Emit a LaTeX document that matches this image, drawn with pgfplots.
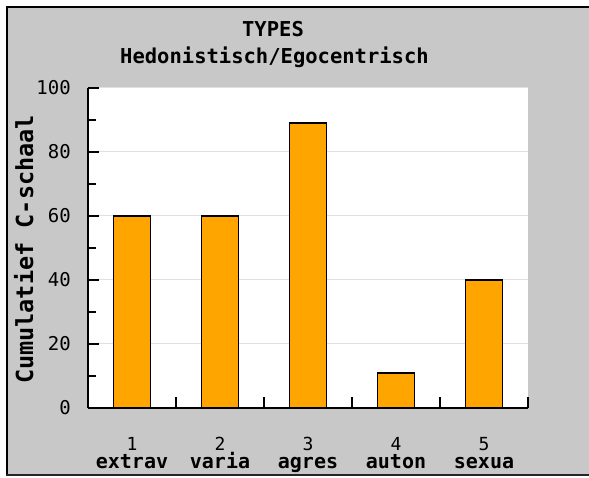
\documentclass[border=0pt]{standalone}
\usepackage{fontspec}
\usepackage{pgfplots}
\pgfplotsset{compat=1.18}
\setmainfont{DejaVu Sans Mono}
\newfontfamily\ticfont{DejaVu Sans Mono}
\definecolor{bg}{RGB}{200,200,200}
\definecolor{barc}{RGB}{255,165,0}
\definecolor{gridc}{RGB}{224,224,224}
\begin{document}
\begin{tikzpicture}[x=1bp,y=1bp]
\path[use as bounding box, fill=white] (0,0) rectangle (589,478);
\fill[bg] (7,3) rectangle (592,471);
\draw[black, line width=2bp] (7,3) -- (7,471) -- (592,471);
\draw[black!85, line width=2bp] (6,3) -- (592,3);
\node[font=\fontsize{20.5bp}{24bp}\selectfont\bfseries, anchor=base, inner sep=0pt] at (273,441) {TYPES};
\node[font=\fontsize{20.5bp}{24bp}\selectfont\bfseries, anchor=base, inner sep=0pt] at (274.5,414) {Hedonistisch/Egocentrisch};
\node[rotate=90, anchor=base, inner sep=0pt, font=\fontsize{23.5bp}{26bp}\selectfont\bfseries] at (33,228.5) {Cumulatief C-schaal};
\begin{axis}[
  at={(88bp,70bp)}, anchor=south west,
  scale only axis, width=440bp, height=320bp,
  xmin=0.5, xmax=5.5, ymin=0, ymax=100,
  axis background/.style={fill=white},
  axis x line*=bottom, axis y line*=left,
  axis line style={line width=1.5bp, black},
  ytick={0,20,...,100}, minor ytick={10,30,...,90},
  ymajorgrids, grid style={gridc, line width=1bp},
  xtick={0.5,1.5,...,5.5}, xticklabels={},
  extra x ticks={1,2,3,4,5},
  extra x tick labels={{{\ticfont\fontsize{18bp}{18bp}\selectfont 1}\\\bfseries extrav},{{\ticfont\fontsize{18bp}{18bp}\selectfont 2}\\\bfseries varia},{{\ticfont\fontsize{18bp}{18bp}\selectfont 3}\\\bfseries agres},{{\ticfont\fontsize{18bp}{18bp}\selectfont 4}\\\bfseries auton},{{\ticfont\fontsize{18bp}{18bp}\selectfont 5}\\\bfseries sexua}},
  extra x tick style={major tick length=0pt, grid=none},
  xticklabel style={anchor=north, inner sep=0pt, yshift=-29bp, align=center, font=\fontsize{20bp}{18bp}\selectfont},
  ytick align=inside, xtick align=outside, major tick length=11bp, minor tick length=8bp,
  tick style={black, line width=1.3bp},
  major x tick style={yshift=11bp},
  /pgf/number format/assume math mode=true,
  yticklabel style={font=\ticfont\fontsize{19bp}{22bp}\selectfont, anchor=east, inner sep=0pt, xshift=-17bp},
  ybar, bar width=37bp, bar shift=0pt,
]
\addplot[fill=barc, draw=black, line width=1.8bp] coordinates {(1,60) (2,60) (3,89) (4,11) (5,40)};
\end{axis}
\end{tikzpicture}
\end{document}
